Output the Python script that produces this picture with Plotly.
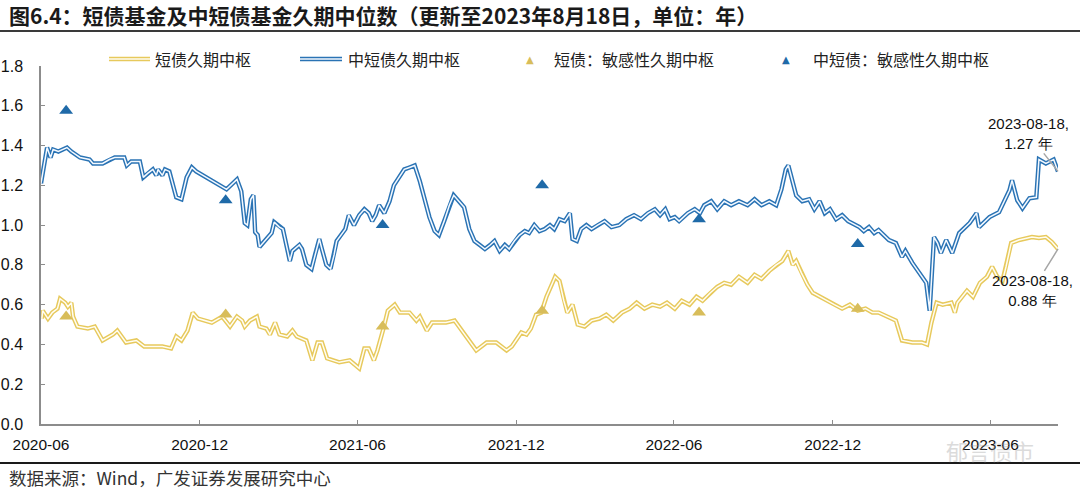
import plotly.graph_objects as go

# ---------------- data ----------------
mid_dates = [
    "2020-06-01", "2020-06-08", "2020-06-12", "2020-06-15", "2020-06-21", "2020-07-01", "2020-07-06",
    "2020-07-16", "2020-07-27", "2020-07-31", "2020-08-11", "2020-08-19", "2020-08-25", "2020-09-05",
    "2020-09-08", "2020-09-13", "2020-09-23", "2020-09-27", "2020-10-02", "2020-10-08", "2020-10-12",
    "2020-10-14", "2020-10-19", "2020-10-22", "2020-10-27", "2020-11-04", "2020-11-10", "2020-11-16",
    "2020-11-22", "2020-11-27", "2021-01-01", "2021-01-13", "2021-01-18", "2021-01-22", "2021-01-25",
    "2021-01-29", "2021-02-01", "2021-02-03", "2021-02-06", "2021-02-08", "2021-02-12", "2021-02-22",
    "2021-02-25", "2021-03-03", "2021-03-07", "2021-03-15", "2021-03-18", "2021-03-26", "2021-03-29",
    "2021-04-03", "2021-04-09", "2021-04-13", "2021-04-18", "2021-04-21", "2021-04-26", "2021-05-01",
    "2021-05-05", "2021-05-08", "2021-05-13", "2021-05-18", "2021-05-22", "2021-05-28", "2021-06-03",
    "2021-06-09", "2021-06-14", "2021-06-18", "2021-06-22", "2021-06-26", "2021-07-02", "2021-07-08",
    "2021-07-13", "2021-07-19", "2021-07-25", "2021-07-31", "2021-08-06", "2021-08-12", "2021-08-17",
    "2021-08-23", "2021-08-29", "2021-09-03", "2021-09-09", "2021-09-15", "2021-09-20", "2021-09-26",
    "2021-10-02", "2021-10-08", "2021-10-14", "2021-10-20", "2021-10-26", "2021-11-01", "2021-11-06",
    "2021-11-12", "2021-11-18", "2021-11-23", "2021-11-29", "2021-12-05", "2021-12-11", "2021-12-16",
    "2021-12-22", "2021-12-28", "2022-01-03", "2022-01-09", "2022-01-14", "2022-01-20", "2022-01-26",
    "2022-02-01", "2022-02-04", "2022-02-09", "2022-02-14", "2022-02-20", "2022-02-26", "2022-03-05",
    "2022-03-13", "2022-03-21", "2022-03-30", "2022-04-07", "2022-04-16", "2022-04-24", "2022-05-02",
    "2022-05-10", "2022-05-16", "2022-05-22", "2022-05-27", "2022-06-02", "2022-06-07", "2022-06-17",
    "2022-06-25", "2022-07-01", "2022-07-06", "2022-07-14", "2022-07-21", "2022-07-29", "2022-08-06",
    "2022-08-15", "2022-08-25", "2022-09-02", "2022-09-10", "2022-09-19", "2022-09-27", "2022-10-03",
    "2022-10-08", "2022-10-11", "2022-10-16", "2022-10-20", "2022-10-27", "2022-11-04", "2022-11-10",
    "2022-11-16", "2022-11-22", "2022-11-28", "2022-12-05", "2022-12-12", "2022-12-19", "2022-12-27",
    "2023-01-01", "2023-01-06", "2023-01-12", "2023-01-18", "2023-01-23", "2023-02-04", "2023-02-12",
    "2023-02-19", "2023-02-23", "2023-03-03", "2023-03-11", "2023-03-19", "2023-03-23", "2023-03-28",
    "2023-04-01", "2023-04-05", "2023-04-11", "2023-04-18", "2023-04-26", "2023-05-08", "2023-05-16",
    "2023-05-19", "2023-05-31", "2023-06-11", "2023-06-23", "2023-06-26", "2023-07-02", "2023-07-08",
    "2023-07-16", "2023-07-24", "2023-07-27", "2023-08-04", "2023-08-13", "2023-08-18",
]
mid_vals = [
    1.21, 1.39, 1.34, 1.38, 1.37, 1.39, 1.37,
    1.34, 1.33, 1.31, 1.31, 1.33, 1.34, 1.34,
    1.30, 1.32, 1.32, 1.24, 1.26, 1.28, 1.25,
    1.28, 1.25, 1.28, 1.27, 1.14, 1.13, 1.24,
    1.29, 1.27, 1.18, 1.23, 1.17, 1.01, 1.00,
    1.13, 1.15, 0.965, 0.95, 0.89, 0.91, 0.96,
    1.015, 0.99, 0.98, 0.82, 0.87, 0.90, 0.88,
    0.80, 0.78, 0.85, 0.93, 0.88, 0.80, 0.78,
    0.85, 0.92, 0.95, 0.98, 1.05, 1.00, 1.05,
    1.08, 1.06, 1.02, 1.05, 1.10, 1.06, 1.12,
    1.20, 1.24, 1.28, 1.29, 1.30, 1.22, 1.14,
    1.04, 0.97, 0.95, 1.02, 1.10, 1.15, 1.12,
    1.09, 0.98, 0.92, 0.90, 0.88, 0.90, 0.92,
    0.87, 0.90, 0.88, 0.92, 0.95, 0.97, 0.96,
    1.00, 0.97, 0.98, 1.00, 0.98, 1.03, 1.02,
    1.06, 0.93, 0.92, 0.98, 1.00, 0.98, 1.00,
    1.02, 0.99, 1.00, 1.03, 1.05, 1.03, 1.06,
    1.08, 1.05, 1.08, 1.03, 1.04, 1.02, 1.06,
    1.08, 1.06, 1.10, 1.12, 1.08, 1.12, 1.10,
    1.12, 1.10, 1.13, 1.10, 1.12, 1.10, 1.18,
    1.28, 1.30, 1.22, 1.15, 1.12, 1.13, 1.08,
    1.12, 1.06, 1.08, 1.03, 1.05, 1.02, 1.00,
    0.99, 0.97, 0.99, 0.96, 0.975, 0.925, 0.91,
    0.84, 0.87, 0.81, 0.76, 0.71, 0.57, 0.94,
    0.91, 0.86, 0.925, 0.86, 0.96, 1.01, 1.06,
    0.99, 1.04, 1.065, 1.175, 1.225, 1.125, 1.085,
    1.135, 1.14, 1.33, 1.31, 1.33, 1.27,
]

short_dates = [
    "2020-06-02", "2020-06-03", "2020-06-09", "2020-06-14", "2020-06-20", "2020-06-23", "2020-06-29",
    "2020-07-02", "2020-07-06", "2020-07-08", "2020-07-13", "2020-07-25", "2020-08-02", "2020-08-11",
    "2020-08-23", "2020-08-28", "2020-09-07", "2020-09-19", "2020-09-28", "2020-10-12", "2020-10-19",
    "2020-10-29", "2020-11-04", "2020-11-10", "2020-11-17", "2020-11-23", "2020-11-29", "2020-12-15",
    "2020-12-27", "2021-01-05", "2021-01-13", "2021-01-19", "2021-01-22", "2021-01-28", "2021-02-05",
    "2021-02-08", "2021-02-16", "2021-02-20", "2021-02-26", "2021-03-03", "2021-03-12", "2021-03-18",
    "2021-03-23", "2021-04-03", "2021-04-10", "2021-04-16", "2021-04-21", "2021-04-27", "2021-05-11",
    "2021-05-23", "2021-05-28", "2021-06-03", "2021-06-09", "2021-06-14", "2021-06-20", "2021-06-24",
    "2021-07-01", "2021-07-06", "2021-07-14", "2021-07-20", "2021-07-31", "2021-08-08", "2021-08-12",
    "2021-08-20", "2021-08-26", "2021-09-11", "2021-09-21", "2021-10-01", "2021-10-16", "2021-10-28",
    "2021-11-08", "2021-11-20", "2021-11-26", "2021-12-07", "2021-12-13", "2021-12-18", "2021-12-24",
    "2021-12-30", "2022-01-05", "2022-01-11", "2022-01-15", "2022-01-20", "2022-01-25", "2022-01-29",
    "2022-02-04", "2022-02-10", "2022-02-18", "2022-02-26", "2022-03-07", "2022-03-15", "2022-03-23",
    "2022-04-02", "2022-04-11", "2022-04-19", "2022-04-28", "2022-05-07", "2022-05-16", "2022-05-24",
    "2022-06-02", "2022-06-10", "2022-06-19", "2022-06-27", "2022-07-04", "2022-07-13", "2022-07-21",
    "2022-07-29", "2022-08-06", "2022-08-15", "2022-08-25", "2022-09-02", "2022-09-10", "2022-09-19",
    "2022-09-27", "2022-10-04", "2022-10-11", "2022-10-16", "2022-10-20", "2022-10-26", "2022-11-02",
    "2022-11-08", "2022-11-16", "2022-11-24", "2022-12-03", "2022-12-12", "2022-12-21", "2022-12-30",
    "2023-01-08", "2023-01-16", "2023-01-23", "2023-02-12", "2023-02-19", "2023-03-03", "2023-03-14",
    "2023-03-20", "2023-03-25", "2023-03-31", "2023-04-07", "2023-04-17", "2023-04-21", "2023-04-24",
    "2023-05-05", "2023-05-12", "2023-05-20", "2023-05-28", "2023-06-03", "2023-06-09", "2023-06-15",
    "2023-06-19", "2023-06-25", "2023-07-04", "2023-07-19", "2023-07-27", "2023-08-04", "2023-08-11",
    "2023-08-18",
]
short_vals = [
    0.53, 0.57, 0.53, 0.56, 0.58, 0.63, 0.61,
    0.59, 0.61, 0.54, 0.49, 0.48, 0.49, 0.42,
    0.45, 0.47, 0.41, 0.42, 0.39, 0.39, 0.39,
    0.38, 0.44, 0.42, 0.47, 0.56, 0.53, 0.51,
    0.54, 0.49, 0.54, 0.52, 0.49, 0.52, 0.54,
    0.49, 0.48, 0.45, 0.51, 0.45, 0.44, 0.47,
    0.44, 0.42, 0.32, 0.41, 0.41, 0.33, 0.31,
    0.32, 0.30, 0.28, 0.38, 0.38, 0.32, 0.37,
    0.48, 0.57, 0.60, 0.56, 0.56, 0.52, 0.54,
    0.47, 0.51, 0.51, 0.52, 0.46, 0.37, 0.41,
    0.41, 0.37, 0.39, 0.46, 0.45, 0.48, 0.55,
    0.56, 0.64, 0.70, 0.74, 0.72, 0.62, 0.56,
    0.60, 0.50, 0.49, 0.52, 0.53, 0.55, 0.52,
    0.56, 0.58, 0.61, 0.58, 0.60, 0.59, 0.61,
    0.58, 0.62, 0.60, 0.64, 0.62, 0.66, 0.69,
    0.71, 0.70, 0.74, 0.71, 0.75, 0.73, 0.77,
    0.80, 0.82, 0.87, 0.80, 0.82, 0.76, 0.70,
    0.66, 0.64, 0.62, 0.60, 0.58, 0.60, 0.57,
    0.58, 0.56, 0.56, 0.52, 0.42, 0.41, 0.41,
    0.40, 0.51, 0.61, 0.60, 0.61, 0.56, 0.61,
    0.67, 0.64, 0.71, 0.74, 0.79, 0.74, 0.72,
    0.79, 0.91, 0.925, 0.94, 0.935, 0.94, 0.915,
    0.88,
]

sens_dates = ["2020-06-30", "2020-12-31", "2021-06-30", "2021-12-31", "2022-06-30", "2022-12-30"]
sens_short = [0.54, 0.55, 0.49, 0.57, 0.56, 0.58]
sens_mid = [1.575, 1.125, 1.00, 1.20, 1.03, 0.905]

tick_vals = ["2020-06-01", "2020-12-01", "2021-06-01", "2021-12-01", "2022-06-01", "2022-12-01", "2023-06-01"]
tick_text = ["2020-06", "2020-12", "2021-06", "2021-12", "2022-06", "2022-12", "2023-06"]

series_names = ["短债久期中枢", "中短债久期中枢", "短债：敏感性久期中枢", "中短债：敏感性久期中枢"]
title_text = "图6.4：短债基金及中短债基金久期中位数（更新至2023年8月18日，单位：年）"
source_text = "数据来源：Wind，广发证券发展研究中心"

# ---------------- styling ----------------
YELLOW = "#E7C95C"
YELLOW_IN = "#FFFDF3"
BLUE = "#2A73B4"
BLUE_IN = "#F4F9FF"
YELLOW_TRI = "#D8BD5A"
BLUE_TRI = "#1F6AA8"
AXIS = "#8C8C8C"
FONT_LAT = "Liberation Sans, Arial, sans-serif"
FONT_CJK = "Noto Sans CJK SC, Liberation Sans, sans-serif"

W, H = 1080, 499
L, R, T, B = 41, 1058, 66, 424  # plot-area pixel box


def px(x):
    return (x - L) / (R - L)


def py(y):
    return (B - y) / (B - T)


fig = go.Figure()

for d, v, c_out, c_in in [(short_dates, short_vals, YELLOW, YELLOW_IN), (mid_dates, mid_vals, BLUE, BLUE_IN)]:
    fig.add_trace(go.Scatter(x=d, y=v, mode="lines", line=dict(color=c_out, width=4.4),
                             showlegend=False, hoverinfo="skip"))
    fig.add_trace(go.Scatter(x=d, y=v, mode="lines", line=dict(color=c_in, width=1.5),
                             showlegend=False))

fig.add_trace(go.Scatter(x=sens_dates, y=sens_short, mode="markers",
                         marker=dict(symbol="triangle-up", size=12, color=YELLOW_TRI),
                         showlegend=False))
fig.add_trace(go.Scatter(x=sens_dates, y=sens_mid, mode="markers",
                         marker=dict(symbol="triangle-up", size=12, color=BLUE_TRI),
                         showlegend=False))

shapes = []
annotations = []

# title and rules
annotations.append(dict(xref="paper", yref="paper", x=px(7), y=py(15), xanchor="left", yanchor="middle",
                        text="<b>" + title_text + "</b>", showarrow=False,
                        font=dict(family=FONT_CJK, size=21, color="#1a1a1a")))
shapes.append(dict(type="line", xref="paper", yref="paper", x0=px(0), x1=px(1080), y0=py(31), y1=py(31),
                   line=dict(color="#3a3a3a", width=2)))
shapes.append(dict(type="line", xref="paper", yref="paper", x0=px(0), x1=px(1080), y0=py(463), y1=py(463),
                   line=dict(color="#1a1a1a", width=2)))
annotations.append(dict(xref="paper", yref="paper", x=px(7), y=py(477), xanchor="left", yanchor="middle",
                        text=source_text, showarrow=False,
                        font=dict(family=FONT_CJK, size=17.5, color="#333333")))

# legend (drawn manually)
leg_y = py(59)
for x0, x1, c_out, c_in in [(109, 150, YELLOW, YELLOW_IN), (300, 342, BLUE, BLUE_IN)]:
    shapes.append(dict(type="line", xref="paper", yref="paper", x0=px(x0), x1=px(x1), y0=leg_y, y1=leg_y,
                       line=dict(color=c_out, width=4.4)))
    shapes.append(dict(type="line", xref="paper", yref="paper", x0=px(x0), x1=px(x1), y0=leg_y, y1=leg_y,
                       line=dict(color=c_in, width=1.5)))
for xt, col in [(530, YELLOW_TRI), (786, BLUE_TRI)]:
    annotations.append(dict(xref="paper", yref="paper", x=px(xt), y=leg_y, xanchor="center", yanchor="middle",
                            text="▲", showarrow=False, font=dict(family="DejaVu Sans", size=10, color=col)))
for xt, name in zip([153, 346, 552, 811], series_names):
    annotations.append(dict(xref="paper", yref="paper", x=px(xt), y=leg_y, xanchor="left", yanchor="middle",
                            text=name, showarrow=False, font=dict(family=FONT_CJK, size=16, color="#222222")))

# end-point labels
annotations.append(dict(x=mid_dates[-1], y=mid_vals[-1], xref="x", yref="y",
                        text=f"{mid_dates[-1]},<br>{mid_vals[-1]:.2f} 年", showarrow=True, arrowhead=0,
                        arrowwidth=1.5, arrowcolor="#A6A6A6", ax=-30, ay=-38, xanchor="center",
                        font=dict(family=FONT_LAT, size=15, color="#111111")))
annotations.append(dict(x=short_dates[-1], y=short_vals[-1], xref="x", yref="y",
                        text=f"{short_dates[-1]},<br>{short_vals[-1]:.2f} 年", showarrow=True, arrowhead=0,
                        arrowwidth=1.5, arrowcolor="#A6A6A6", ax=-26, ay=42, xanchor="center",
                        font=dict(family=FONT_LAT, size=15, color="#111111")))

# watermark
annotations.append(dict(xref="paper", yref="paper", x=px(990), y=py(450), xanchor="center", yanchor="middle",
                        text="郁言债市", showarrow=False, opacity=0.35,
                        font=dict(family=FONT_CJK, size=22, color="#9a9a9a")))

fig.update_layout(
    width=W, height=H,
    margin=dict(l=L, r=W - R, t=T, b=H - B, pad=0),
    paper_bgcolor="white", plot_bgcolor="white",
    shapes=shapes, annotations=annotations,
    showlegend=False,
    font=dict(family=FONT_LAT, size=15, color="#111111"),
    xaxis=dict(type="date", range=["2020-06-01", "2023-08-18"], tickmode="array",
               tickvals=tick_vals, ticktext=tick_text, showgrid=False, zeroline=False,
               showline=True, linecolor=AXIS, linewidth=1.5, ticks="inside", ticklen=4,
               tickcolor=AXIS, tickwidth=1, ticklabelstandoff=6, automargin=False,
               tickfont=dict(family=FONT_LAT, size=15.5, color="#111111")),
    yaxis=dict(range=[0, 1.8], dtick=0.2, tick0=0, tickformat=".1f", showgrid=False, zeroline=False,
               showline=True, linecolor=AXIS, linewidth=1.5, ticks="inside", ticklen=4,
               tickcolor=AXIS, tickwidth=1, ticklabelstandoff=13, automargin=False,
               tickfont=dict(family=FONT_LAT, size=16, color="#111111")),
)

fig.write_html("out.html", config={"displayModeBar": False},
               post_script="document.body.style.margin='0';")
